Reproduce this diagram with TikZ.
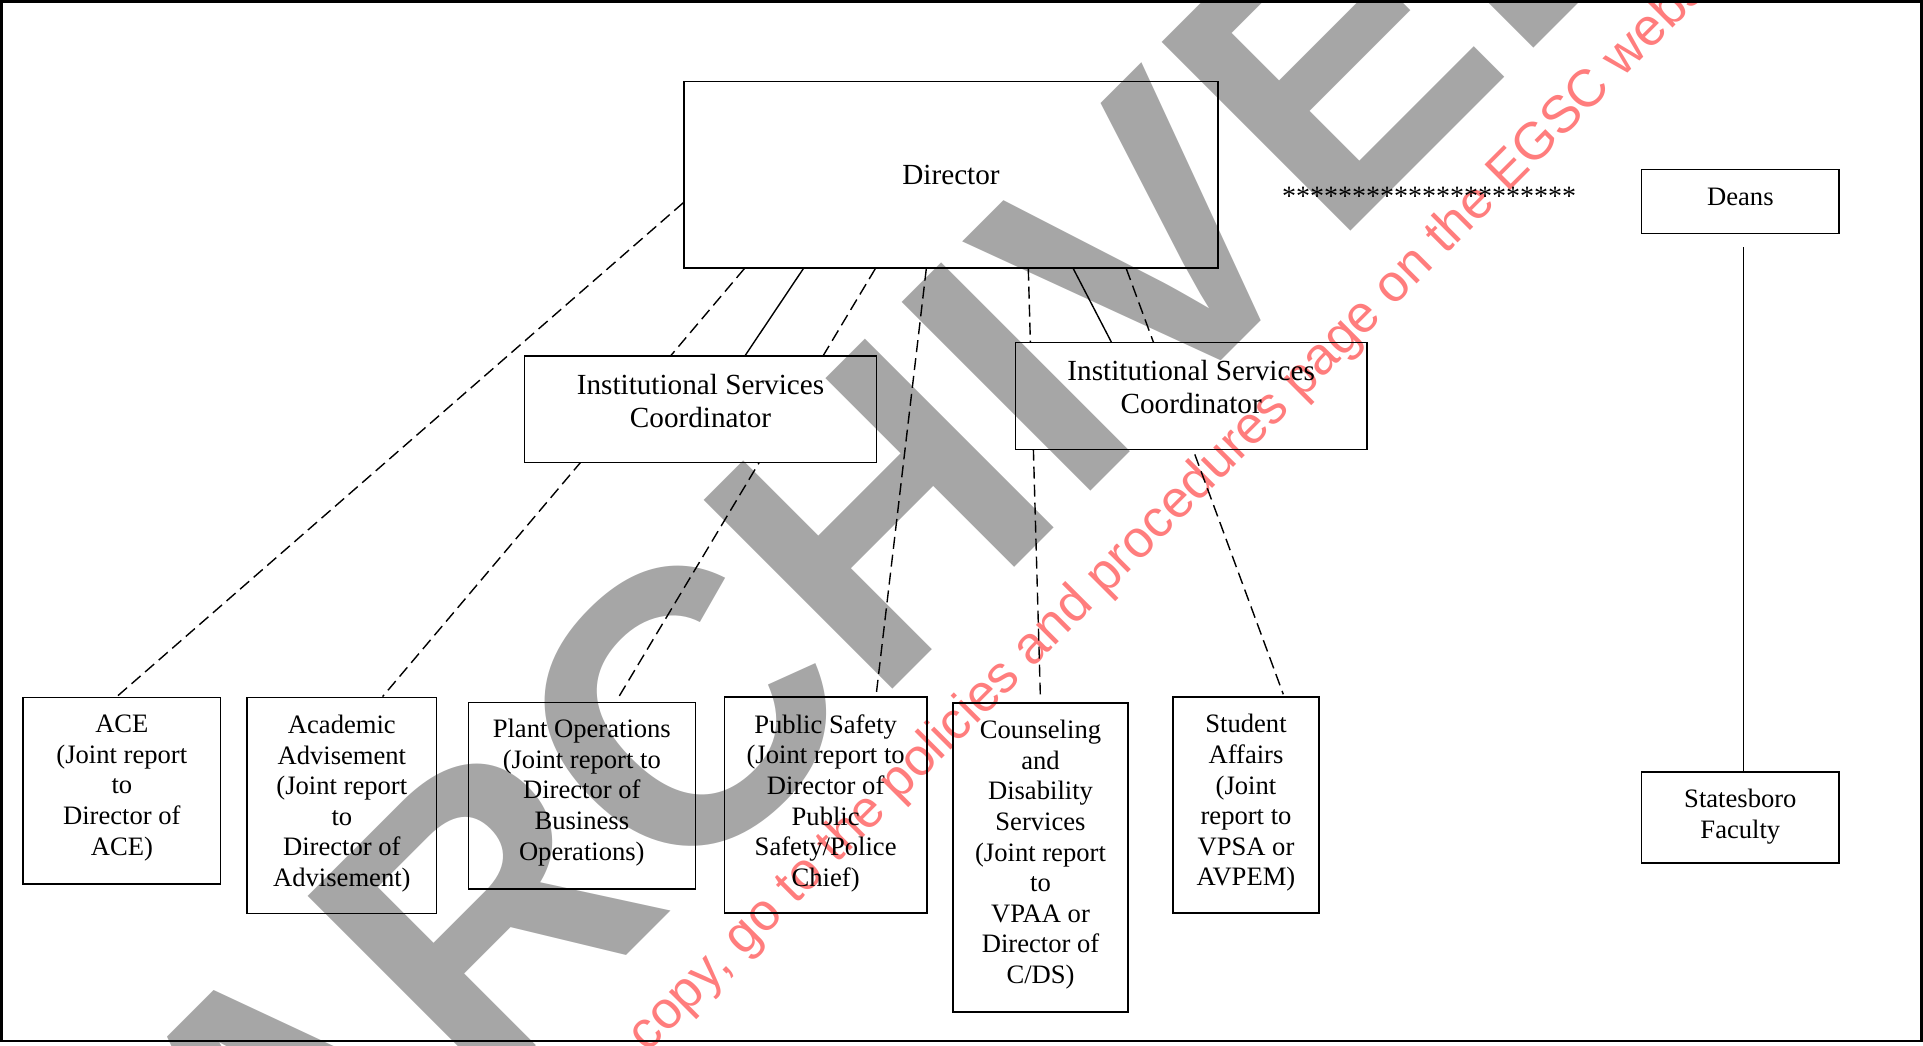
\documentclass[tikz,border=0pt]{standalone}
\usepackage{fontspec}
\setmainfont{Liberation Serif}
\newfontfamily\wmfont{Liberation Sans}
\definecolor{wmgray}{RGB}{166,166,166}
\definecolor{wmred}{RGB}{255,125,125}
\pgfdeclarelayer{bg}
\pgfdeclarelayer{wm}
\pgfsetlayers{bg,main,wm}
\tikzset{
  box/.style={draw, line width=1.4pt, fill=white, inner sep=0pt},
  txt/.style={align=center, inner sep=0pt, anchor=north, font=\fontsize{26.6}{30.6}\selectfont, execute at begin node=\strut},
  isctxt/.style={align=center, inner sep=0pt, anchor=north, font=\fontsize{29.2}{33}\selectfont, execute at begin node=\strut},
  conn/.style={line width=1.4pt},
  dconn/.style={line width=1.4pt, dash pattern=on 12pt off 6pt},
}
\begin{document}
\begin{tikzpicture}[x=1pt,y=-1pt]
\useasboundingbox (0,0) rectangle (1923,1046);
% boxes
\node[box, minimum width=534pt, minimum height=186.5pt, font=\fontsize{29.2}{33}\selectfont] (director) at (951,174.75) {Director};
\node[box, minimum width=352pt, minimum height=106.5pt] (isc1) at (700.5,409.25) {};
\node[box, minimum width=351.7pt, minimum height=106.6pt] (isc2) at (1191.15,396) {};
\node[box, minimum width=197.3pt, minimum height=64.4pt] (deans) at (1740.35,201.5) {};
\node[box, minimum width=197.7pt, minimum height=186.7pt] (ace) at (121.85,790.65) {};
\node[box, minimum width=189.7pt, minimum height=216pt] (acad) at (341.85,805.3) {};
\node[box, minimum width=227pt, minimum height=186.3pt] (plant) at (581.8,795.85) {};
\node[box, minimum width=202.7pt, minimum height=216pt] (public) at (825.65,805) {};
\node[box, minimum width=175pt, minimum height=309pt] (couns) at (1040.5,857.5) {};
\node[box, minimum width=146pt, minimum height=216pt] (student) at (1246,805) {};
\node[box, minimum width=197.3pt, minimum height=91pt] (states) at (1740.35,817.5) {};
% texts
\node[isctxt] (isc1t) at (700.5,373.6) {Institutional Services\\Coordinator};
\node[isctxt] (isc2t) at (1191.15,360.3) {Institutional Services\\Coordinator};
\node[txt] (deanst) at (1740.35,183.9) {Deans};
\node[txt] (acet) at (121.85,714.9) {ACE\\(Joint report\\to\\Director of\\ACE)};
\node[txt] (acadt) at (341.85,714.9) {Academic\\Advisement\\(Joint report\\to\\Director of\\Advisement)};
\node[txt] (plantt) at (581.8,719) {Plant Operations\\(Joint report to\\Director of\\Business\\Operations)};
\node[txt] (publict) at (825.65,714.3) {Public Safety\\(Joint report to\\Director of\\Public\\Safety/Police\\Chief)};
\node[txt] (counst) at (1040.5,720) {Counseling\\and\\Disability\\Services\\(Joint report\\to\\VPAA or\\Director of\\C/DS)};
\node[txt] (studentt) at (1246,714.3) {Student\\Affairs\\(Joint\\report to\\VPSA or\\AVPEM)};
\node[txt] (statest) at (1740.35,789) {Statesboro\\Faculty};
\node[anchor=base west, inner sep=0pt, font=\fontsize{28}{33}\selectfont] (stars) at (1282,205) {*********************};
% connectors
\begin{pgfonlayer}{bg}
\draw[dconn] ([yshift=-28pt]director.west) -- ([xshift=-5pt]ace.north);
\draw[dconn] ([xshift=61pt]director.south west) -- ([xshift=136.3pt]acad.north west);
\draw[conn] ([xshift=120pt]director.south west) -- ([xshift=221.5pt]isc1.north west);
\draw[dconn] ([xshift=192pt]director.south west) -- ([xshift=151.7pt,yshift=6pt]plant.north west);
\draw[dconn] ([xshift=243pt]director.south west) -- ([xshift=152.4pt]public.north west);
\draw[dconn] ([xshift=345pt]director.south west) -- ([xshift=88pt,yshift=8pt]couns.north west);
\draw[conn] ([xshift=390pt]director.south west) -- ([xshift=96.7pt]isc2.north west);
\draw[dconn] ([xshift=443pt]director.south west) -- ([xshift=111pt,yshift=2pt]student.north west);
\draw[conn] ([xshift=3pt,yshift=-13pt]deans.south) -- ([xshift=3pt]states.north);
\end{pgfonlayer}
% watermark
\begin{pgfonlayer}{wm}
\begin{scope}[blend mode=multiply]
\clip (0,0) rectangle (1923,1046);
\node[anchor=base west, inner sep=0pt, rotate=45, text=wmgray, font=\wmfont\bfseries\fontsize{388}{400}\selectfont] (archived) at (280.5,1301.5) {ARCHIVED};
\node[anchor=base west, inner sep=0pt, rotate=45, text=wmred, font=\wmfont\fontsize{52.5}{55}\selectfont] (notice) at (647.5,1053.5) {copy, go to the policies and procedures page on the EGSC website};
\end{scope}
\draw[line width=2.5pt] (1.5,1.5) rectangle (1921.5,1041);
\end{pgfonlayer}
\end{tikzpicture}
\end{document}
